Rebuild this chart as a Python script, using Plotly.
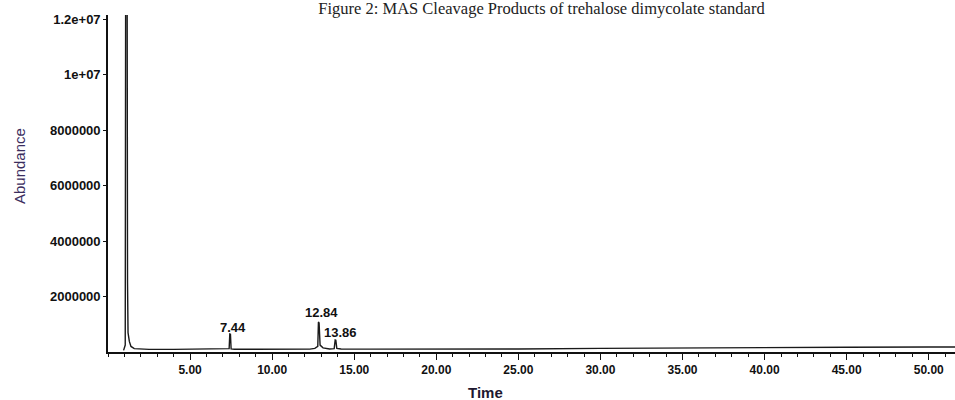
import plotly.graph_objects as go

# Chromatogram data (time in minutes, abundance)
time = [0.95, 1.05, 1.08, 1.16, 1.19, 1.22, 1.30, 1.40, 1.60, 2.50, 4.00, 6.00,
        7.20, 7.38, 7.42, 7.46, 7.50, 7.70, 9.00, 11.00, 12.30, 12.60, 12.78,
        12.82, 12.86, 12.92, 13.10, 13.50, 13.78, 13.84, 13.88, 13.94, 14.20,
        16.00, 20.00, 25.00, 30.00, 35.00, 40.00, 45.00, 50.00, 51.60]
abundance = [60000, 250000, 16000000, 16000000, 2500000, 700000, 380000, 200000,
             120000, 95000, 95000, 100000,
             100000, 120000, 650000, 640000, 110000, 100000, 100000, 100000,
             105000, 130000, 200000,
             1080000, 1050000, 250000, 150000, 110000, 120000, 430000, 420000,
             130000, 110000,
             105000, 100000, 110000, 130000, 150000, 160000, 170000, 180000, 180000]

peak_labels = ["7.44", "12.84", "13.86"]
peak_label_x = [7.62, 12.98, 14.14]
peak_label_y = [900000, 1440000, 690000]

y_tick_vals = [2000000, 4000000, 6000000, 8000000, 10000000, 12000000]
y_tick_text = ["2000000", "4000000", "6000000", "8000000", "1e+07", "1.2e+07"]
x_tick_vals = [5, 10, 15, 20, 25, 30, 35, 40, 45, 50]
x_tick_text = ["5.00", "10.00", "15.00", "20.00", "25.00", "30.00", "35.00",
               "40.00", "45.00", "50.00"]

title_text = "Figure 2: MAS Cleavage Products of trehalose dimycolate standard"

fig = go.Figure()
fig.add_trace(go.Scatter(x=time, y=abundance, mode="lines",
                         line=dict(color="#1a1a1a", width=1.4),
                         showlegend=False, hoverinfo="skip"))

for txt, px, py in zip(peak_labels, peak_label_x, peak_label_y):
    fig.add_annotation(x=px, y=py, xref="x", yref="y", text=f"<b>{txt}</b>", showarrow=False,
                       font=dict(family="Liberation Sans", size=13, color="#111"),
                       xanchor="center", yanchor="middle")

tick_font = dict(family="Liberation Sans", size=13, color="#111")

fig.update_layout(
    width=955, height=400,
    margin=dict(l=108, r=0, t=15, b=48),
    paper_bgcolor="white", plot_bgcolor="white",
    title=dict(text=title_text, x=0.567, xanchor="center", y=0.979, yanchor="middle",
               font=dict(family="Liberation Serif", size=16.5, color="#222")),
    xaxis=dict(range=[0, 51.6], showgrid=False, zeroline=False,
               showline=True, linecolor="#111", linewidth=1.6,
               ticks="outside", ticklen=6, tickwidth=1.2, tickcolor="#111",
               tickmode="array", tickvals=x_tick_vals, ticktext=[f"<b>{t}</b>" for t in x_tick_text],
               tickfont=dict(family="Liberation Sans", size=12, color="#111"),
               minor=dict(ticks="outside", ticklen=3, tickwidth=1, tickcolor="#111",
                          tickmode="linear", tick0=0, dtick=1, showgrid=False)),
    yaxis=dict(range=[0, 12150000], showgrid=False, zeroline=False,
               showline=True, linecolor="#111", linewidth=1.6,
               ticks="outside", ticklen=3, tickwidth=1, tickcolor="#111",
               tickmode="array", tickvals=y_tick_vals, ticktext=[f"<b>{t}</b>" for t in y_tick_text],
               tickfont=tick_font, ticklabelstandoff=0),
    annotations=list(fig.layout.annotations) + [
        dict(text="<b>Time</b>", x=485, y=392, xref="paper", yref="paper", showarrow=False,
             font=dict(family="Liberation Sans", size=15, color="#1e1830")),
        dict(text="Abundance", x=19, y=166, xref="paper", yref="paper", showarrow=False,
             textangle=-90, font=dict(family="Liberation Sans", size=15, color="#3a2d5e")),
    ],
)

# convert pixel positions of axis titles into paper coordinates
pw = 955 - 108 - 0
ph = 400 - 15 - 48
anns = list(fig.layout.annotations)
for a in anns:
    if a.xref == "paper":
        a.x = (a.x - 108) / pw
        a.y = 1 - (a.y - 15) / ph
        a.xanchor = "center"
        a.yanchor = "middle"
fig.layout.annotations = anns

fig.write_html("out.html")
